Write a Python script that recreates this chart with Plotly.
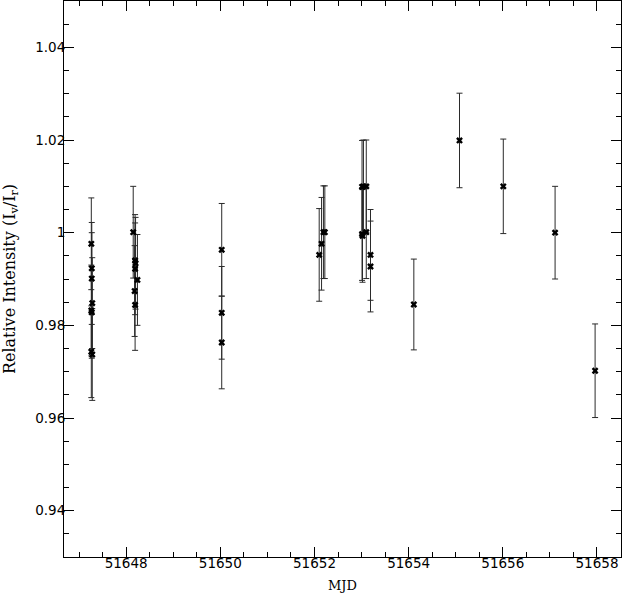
import plotly.graph_objects as go

# MJD of each measurement
mjd = [51647.26, 51647.27, 51647.27, 51647.28, 51647.26, 51647.27, 51647.26, 51647.28,
       51648.15, 51648.19, 51648.20, 51648.19, 51648.24, 51648.18, 51648.19,
       51650.03, 51650.03, 51650.03,
       51652.10, 51652.15, 51652.19, 51652.22,
       51653.01, 51653.04, 51653.10, 51653.01, 51653.02, 51653.10, 51653.19, 51653.19,
       51654.11, 51655.08, 51656.01, 51657.11, 51657.96]

# relative intensity I_v / I_r
intensity = [0.9976, 0.9923, 0.9901, 0.9848, 0.9832, 0.9828, 0.9743, 0.9737,
             1.0001, 0.9940, 0.9934, 0.9922, 0.9898, 0.9874, 0.9844,
             0.9963, 0.9827, 0.9763,
             0.9952, 0.9976, 1.0001, 1.0001,
             1.0099, 1.0100, 1.0100, 0.9997, 0.9993, 1.0001, 0.9952, 0.9927,
             0.9845, 1.0199, 1.0100, 1.0000, 0.9702]

# 1-sigma errors
err = [0.0099, 0.0099, 0.0099, 0.0098, 0.0098, 0.0099, 0.0099, 0.0099,
       0.0099, 0.0099, 0.0099, 0.0099, 0.0098, 0.0098, 0.0098,
       0.0100, 0.0100, 0.0100,
       0.0100, 0.0100, 0.0100, 0.0100,
       0.0100, 0.0100, 0.0100, 0.0100, 0.0100, 0.0100, 0.0098, 0.0098,
       0.0098, 0.0102, 0.0102, 0.0100, 0.0101]

x_ticks = [51648, 51650, 51652, 51654, 51656, 51658]
y_ticks = [0.94, 0.96, 0.98, 1.0, 1.02, 1.04]
y_labels = ["0.94", "0.96", "0.98", "1", "1.02", "1.04"]

serif = "DejaVu Serif"
sans = "DejaVu Sans"

fig = go.Figure(go.Scatter(
    x=mjd, y=intensity, mode="markers",
    marker=dict(symbol="x", size=6, color="black"),
    error_y=dict(type="data", array=err, visible=True, color="#2a2a2a",
                 thickness=1, width=3),
    showlegend=False,
))

axis_common = dict(
    showgrid=False, zeroline=False, showline=True, linecolor="black",
    linewidth=1, mirror="ticks", ticks="inside", ticklen=10,
    tickcolor="black", tickwidth=1, automargin=False,
    tickfont=dict(family=sans, size=13.5, color="black"),
)

fig.update_xaxes(
    range=[51646.68, 51658.51], tickvals=x_ticks,
    ticktext=[str(v) for v in x_ticks], ticklabelstandoff=-6,
    minor=dict(dtick=0.5, tick0=51648, ticks="inside", ticklen=5,
               tickcolor="black"),
    title=dict(text="MJD", font=dict(family=serif, size=13, color="black"),
               standoff=10),
    **axis_common,
)
fig.update_yaxes(
    range=[0.93, 1.05], tickvals=y_ticks, ticktext=y_labels,
    ticklabelstandoff=-5,
    minor=dict(dtick=0.005, tick0=0.93, ticks="inside", ticklen=5,
               tickcolor="black"),
    title=dict(text="Relative Intensity (I<sub>v</sub>/I<sub>r</sub>)",
               font=dict(family=serif, size=16, color="black"), standoff=15),
    **axis_common,
)

fig.update_layout(
    width=623, height=593,
    margin=dict(l=64, r=2, t=1, b=36),
    paper_bgcolor="white", plot_bgcolor="white",
)

# drop the browser's default body margin so the figure sits at the corner
fig.write_html("out.html", config={"displayModeBar": False},
               post_script="document.body.style.margin='0';")
